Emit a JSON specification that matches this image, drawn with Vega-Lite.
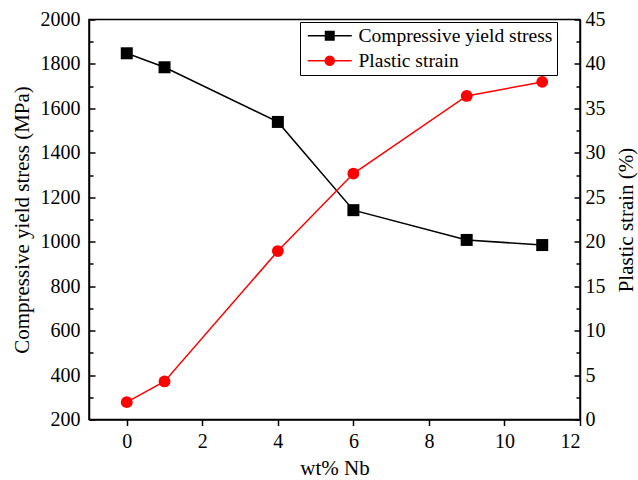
{
  "$schema": "https://vega.github.io/schema/vega-lite/v6.json",
  "width": 491,
  "height": 400,
  "autosize": "none",
  "padding": {"left": 89, "top": 19.5, "right": 57.5, "bottom": 60.5},
  "background": "white",
  "config": {
    "view": {"stroke": "black", "strokeWidth": 1.5},
    "axis": {
      "grid": false,
      "domainColor": "black",
      "domainWidth": 1.5,
      "tickColor": "black",
      "tickWidth": 1.5,
      "labelFont": "'Liberation Serif', 'Times New Roman', serif",
      "labelFontSize": 20,
      "labelColor": "black",
      "titleFont": "'Liberation Serif', 'Times New Roman', serif",
      "titleFontSize": 21,
      "titleFontWeight": "normal",
      "titleColor": "black"
    },
    "legend": {
      "labelFont": "'Liberation Serif', 'Times New Roman', serif",
      "labelFontSize": 19.5,
      "labelColor": "black"
    }
  },
  "data": {
    "values": [
      {"series": "Compressive yield stress", "Nb": 0, "value": 1848},
      {"series": "Compressive yield stress", "Nb": 1, "value": 1785},
      {"series": "Compressive yield stress", "Nb": 4, "value": 1539},
      {"series": "Compressive yield stress", "Nb": 6, "value": 1142},
      {"series": "Compressive yield stress", "Nb": 9, "value": 1008},
      {"series": "Compressive yield stress", "Nb": 11, "value": 985},
      {"series": "Plastic strain", "Nb": 0, "value": 1.95},
      {"series": "Plastic strain", "Nb": 1, "value": 4.28},
      {"series": "Plastic strain", "Nb": 4, "value": 18.95},
      {"series": "Plastic strain", "Nb": 6, "value": 27.67},
      {"series": "Plastic strain", "Nb": 9, "value": 36.4},
      {"series": "Plastic strain", "Nb": 11, "value": 37.98}
    ]
  },
  "encoding": {
    "x": {
      "field": "Nb",
      "type": "quantitative",
      "scale": {"domain": [-1, 12], "nice": false, "zero": false},
      "axis": {
        "title": "wt% Nb",
        "values": [0, 2, 4, 6, 8, 10, 12],
        "tickSize": 6,
        "labelPadding": 6,
        "titlePadding": 6
      }
    }
  },
  "layer": [
    {
      "transform": [{"filter": "datum.series == 'Compressive yield stress'"}],
      "encoding": {
        "y": {
          "field": "value",
          "type": "quantitative",
          "scale": {"domain": [200, 2000], "nice": false, "zero": false},
          "axis": {
            "orient": "left",
            "title": "Compressive yield stress (MPa)",
            "values": [200, 300, 400, 500, 600, 700, 800, 900, 1000, 1100, 1200, 1300, 1400, 1500, 1600, 1700, 1800, 1900, 2000],
            "format": "d",
            "labelExpr": "datum.value % 200 == 0 ? datum.label : ''",
            "tickSize": {"condition": {"test": "datum.value % 200 == 0", "value": -6}, "value": -4},
            "labelPadding": 15,
            "titlePadding": 8
          }
        }
      },
      "layer": [
        {"mark": {"type": "line", "color": "black", "strokeWidth": 1.5}},
        {"mark": {"type": "point", "shape": "square", "filled": true, "size": 144, "color": "black", "opacity": 1}}
      ]
    },
    {
      "transform": [{"filter": "datum.series == 'Plastic strain'"}],
      "encoding": {
        "y": {
          "field": "value",
          "type": "quantitative",
          "scale": {"domain": [0, 45], "nice": false, "zero": false},
          "axis": {
            "orient": "right",
            "title": "Plastic strain (%)",
            "titleAngle": -90,
            "values": [0, 2.5, 5, 7.5, 10, 12.5, 15, 17.5, 20, 22.5, 25, 27.5, 30, 32.5, 35, 37.5, 40, 42.5, 45],
            "labelExpr": "datum.value % 5 == 0 ? datum.label : ''",
            "tickSize": {"condition": {"test": "datum.value % 5 == 0", "value": -6}, "value": -4},
            "labelPadding": 11,
            "titlePadding": 31
          }
        }
      },
      "layer": [
        {"mark": {"type": "line", "color": "red", "strokeWidth": 1.5}},
        {"mark": {"type": "point", "shape": "circle", "filled": true, "size": 140, "color": "red", "opacity": 1}}
      ]
    },
    {
      "mark": {"type": "point", "filled": true, "opacity": 0, "strokeWidth": 1.5},
      "encoding": {
        "fill": {
          "field": "series",
          "type": "nominal",
          "scale": {"domain": ["Compressive yield stress", "Plastic strain"], "range": ["black", "red"]},
          "legend": {
            "title": null,
            "orient": "none",
            "legendX": 211,
            "legendY": 2.5,
            "strokeColor": "black",
            "fillColor": "white",
            "padding": 4,
            "symbolOffset": 16,
            "symbolSize": 100,
            "symbolOpacity": 1,
            "symbolStrokeWidth": 1.5,
            "labelOffset": 19,
            "labelLimit": 0,
            "rowPadding": 4,
            "encode": {
              "symbols": {"update": {"fillOpacity": {"value": 1}, "strokeOpacity": {"value": 1}, "opacity": {"value": 1}}}
            }
          }
        },
        "stroke": {
          "field": "series",
          "type": "nominal",
          "scale": {"domain": ["Compressive yield stress", "Plastic strain"], "range": ["black", "red"]}
        },
        "shape": {
          "field": "series",
          "type": "nominal",
          "scale": {
            "domain": ["Compressive yield stress", "Plastic strain"],
            "range": [
              "M-4.4,0H4.4M-0.85,-0.85H0.85V0.85H-0.85Z",
              "M-4.4,0H4.4M0.9,0A0.9,0.9,0,1,1,-0.9,0A0.9,0.9,0,1,1,0.9,0Z"
            ]
          }
        }
      }
    }
  ],
  "resolve": {"scale": {"y": "independent"}}
}
